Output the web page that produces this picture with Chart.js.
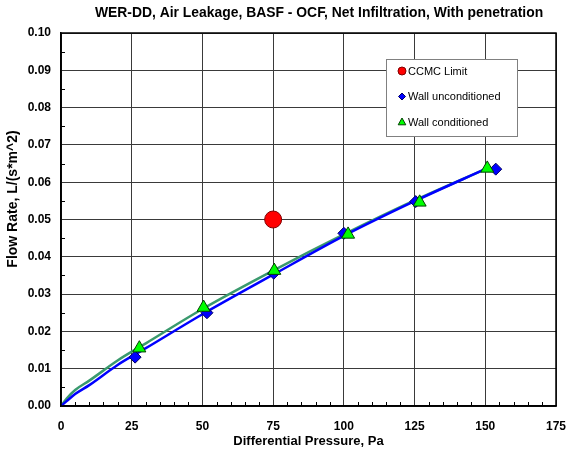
<!DOCTYPE html>
<html>
<head>
<meta charset="utf-8">
<script src="https://cdn.jsdelivr.net/npm/chart.js@4"></script>
<style>
html,body{margin:0;padding:0;background:#fff;}
#wrap{width:568px;height:453px;}
</style>
</head>
<body>
<div id="wrap"><canvas id="c" width="568" height="453"></canvas></div>
<script>
// ---- data ----
const xTicks = [0, 25, 50, 75, 100, 125, 150, 175];
const yTicks = [0.00, 0.01, 0.02, 0.03, 0.04, 0.05, 0.06, 0.07, 0.08, 0.09, 0.10];

const ccmcP = [75];
const ccmcQ = [0.050];

const uncondP = [26.2, 51.6, 75.2, 100.0, 125.4, 153.7];
const uncondQ = [0.0131, 0.0250, 0.0356, 0.0463, 0.0548, 0.0635];

const condP = [27.7, 50.4, 75.4, 101.5, 126.8, 150.7];
const condQ = [0.0155, 0.0264, 0.0363, 0.0460, 0.0546, 0.0637];

// fitted curves
const uncondFitP = [0, 2, 5, 10, 20, 30, 50, 75, 100, 125, 150.5];
const uncondFitQ = [0, 0.0013, 0.0032, 0.0056, 0.0110, 0.0155, 0.0246, 0.0352, 0.0456, 0.0549, 0.0637];
const condFitP = [0, 2, 5, 10, 20, 30, 50, 75, 100, 125, 150.7];
const condFitQ = [0, 0.0020, 0.0043, 0.0068, 0.0122, 0.0168, 0.0260, 0.0363, 0.0460, 0.0551, 0.0637];

const chartTitle = 'WER-DD, Air Leakage, BASF - OCF, Net Infiltration, With penetration';
const yTitle = 'Flow Rate, L/(s*m^2)';

const toXY = (xs, ys) => xs.map((x, i) => ({x: x, y: ys[i]}));
const FONT = '"Liberation Sans", Arial, sans-serif';

const frame = {
  id: 'frame',
  beforeDatasetsDraw(chart) {
    const {ctx, chartArea: a, scales: {x, y}} = chart;
    ctx.save();
    ctx.strokeStyle = '#000';
    ctx.lineWidth = 1;
    ctx.beginPath();
    for (let v = 5; v < 175; v += 5) {
      if (v % 25 === 0) continue;
      const px = Math.round(x.getPixelForValue(v)) + 0.5;
      ctx.moveTo(px, a.bottom);
      ctx.lineTo(px, a.bottom - 4);
    }
    for (let k = 1; k < 20; k += 2) {
      const py = Math.round(y.getPixelForValue(k * 0.005)) + 0.5;
      ctx.moveTo(a.left, py);
      ctx.lineTo(a.left + 4, py);
    }
    ctx.stroke();
    ctx.restore();
  },
  afterDraw(chart) {
    const {ctx, chartArea: a} = chart;
    ctx.save();
    ctx.strokeStyle = '#000';
    ctx.lineWidth = 1.5;
    ctx.strokeRect(a.left, a.top, a.right - a.left, a.bottom - a.top);
    // chart title
    ctx.fillStyle = '#000';
    ctx.font = 'bold 13.9px ' + FONT;
    ctx.textAlign = 'center';
    ctx.textBaseline = 'middle';
    ctx.fillText(chartTitle, 319, 13.5);
    // y axis title
    ctx.save();
    ctx.translate(13.5, 199);
    ctx.rotate(-Math.PI / 2);
    ctx.font = 'bold 14px ' + FONT;
    ctx.fillText(yTitle, 0, 0);
    ctx.restore();
    // legend box
    const bx = 386.5, by = 59.5, bw = 131, bh = 77;
    ctx.fillStyle = '#fff';
    ctx.fillRect(bx, by, bw, bh);
    ctx.lineWidth = 1;
    ctx.strokeStyle = '#808080';
    ctx.strokeRect(bx, by, bw, bh);
    const items = chart.data.datasets.filter(d => d.inLegend);
    ctx.font = '11px ' + FONT;
    ctx.textAlign = 'left';
    ctx.textBaseline = 'middle';
    items.forEach((d, i) => {
      const cy = 71 + i * 25.5;
      const cx = 402;
      ctx.fillStyle = d.pointBackgroundColor;
      ctx.strokeStyle = d.pointBorderColor;
      ctx.lineWidth = 1;
      ctx.beginPath();
      const r = d.legendRadius;
      if (d.pointStyle === 'circle') ctx.arc(cx, cy, r, 0, Math.PI * 2);
      else if (d.pointStyle === 'rectRot') { ctx.moveTo(cx, cy - r); ctx.lineTo(cx + r, cy); ctx.lineTo(cx, cy + r); ctx.lineTo(cx - r, cy); ctx.closePath(); }
      else { ctx.moveTo(cx, cy - r); ctx.lineTo(cx + r * 0.95, cy + r * 0.7); ctx.lineTo(cx - r * 0.95, cy + r * 0.7); ctx.closePath(); }
      ctx.fill(); ctx.stroke();
      ctx.fillStyle = '#000';
      ctx.fillText(d.label, cx + 6, cy + 0.5);
    });
    ctx.restore();
  }
};

new Chart(document.getElementById('c'), {
  type: 'scatter',
  data: {
    datasets: [
      { label: 'CCMC Limit', data: toXY(ccmcP, ccmcQ), pointStyle: 'circle', pointRadius: 8.5,
        pointBackgroundColor: '#ff0000', pointBorderColor: '#800000', pointBorderWidth: 1,
        showLine: false, order: 0, inLegend: true, legendRadius: 4 },
      { label: 'Wall unconditioned', data: toXY(uncondP, uncondQ), pointStyle: 'rectRot', pointRadius: 6,
        pointBackgroundColor: '#0000ff', pointBorderColor: '#000060', pointBorderWidth: 1,
        showLine: false, order: 2, inLegend: true, legendRadius: 3.5 },
      { label: 'Wall conditioned', data: toXY(condP, condQ), pointStyle: 'triangle', pointRadius: 7.5,
        pointBackgroundColor: '#00ff00', pointBorderColor: '#004000', pointBorderWidth: 1,
        showLine: false, order: 1, inLegend: true, legendRadius: 4 },
      { label: 'fit conditioned', data: toXY(condFitP, condFitQ), showLine: true, pointRadius: 0,
        borderColor: '#3a9a6e', borderWidth: 2.5, cubicInterpolationMode: 'monotone', order: 4 },
      { label: 'fit unconditioned', data: toXY(uncondFitP, uncondFitQ), showLine: true, pointRadius: 0,
        borderColor: '#0000ff', borderWidth: 2.5, cubicInterpolationMode: 'monotone', order: 3 }
    ]
  },
  options: {
    responsive: false,
    animation: false,
    events: [],
    layout: { padding: { left: 0, right: 12, top: 33, bottom: 0 } },
    plugins: {
      legend: { display: false },
      tooltip: { enabled: false },
      title: { display: false }
    },
    scales: {
      x: {
        type: 'linear', min: 0, max: 175,
        afterBuildTicks: s => { s.ticks = xTicks.map(v => ({value: v})); },
        afterFit: s => { s.height = 47; s.paddingLeft = 0; s.paddingRight = 0; },
        grid: { color: '#3a3a3a', lineWidth: 1, drawTicks: false },
        border: { color: '#000', width: 1.5 },
        ticks: { color: '#000', font: { family: FONT, size: 12, weight: 'bold' }, padding: 13,
                 maxRotation: 0, callback: v => String(v) },
        title: { display: true, text: 'Differential Pressure, Pa', color: '#000',
                 font: { family: FONT, size: 13, weight: 'bold' }, padding: { top: 2, bottom: 4 } }
      },
      y: {
        type: 'linear', min: 0, max: 0.1,
        afterBuildTicks: s => { s.ticks = yTicks.map(v => ({value: v})); },
        afterFit: s => { s.width = 61; s.paddingTop = 0; s.paddingBottom = 0; },
        grid: { color: '#3a3a3a', lineWidth: 1, drawTicks: false },
        border: { color: '#000', width: 1.5 },
        ticks: { color: '#000', font: { family: FONT, size: 12, weight: 'bold' }, padding: 10,
                 callback: v => Number(v).toFixed(2) },
        title: { display: false }
      }
    }
  },
  plugins: [frame]
});
</script>
</body>
</html>
